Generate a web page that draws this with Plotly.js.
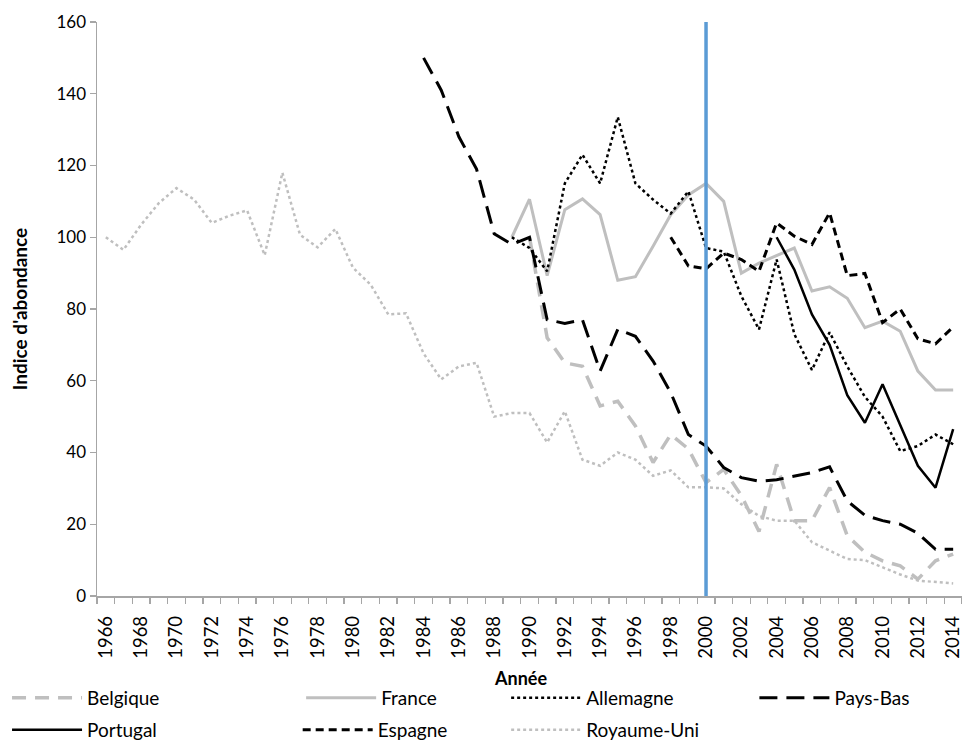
<!DOCTYPE html>
<html>
<head>
<meta charset="utf-8">
<script src="https://cdn.plot.ly/plotly-3.0.1.min.js"></script>
<style>html,body{margin:0;padding:0;background:#fff}#chart{width:962px;height:749px}</style>
</head>
<body>
<div id="chart"></div>
<script>
// Years on the category axis
var years = [];
for (var y = 1966; y <= 2014; y++) years.push(y);
var tickYears = years.filter(function (v) { return v % 2 === 0; });

// Series values (index of abundance), each with its first year
var belgiqueStart = 1990;
var belgique = [100, 72, 65, 64, 53, 54.3, 47.4, 37.2, 45, 41, 31.6, 35.3, 28, 18, 36.7, 21, 21, 30.2, 16.8, 12.2, 9.8, 8.4, 4.7, 9.8, 11.7];
var franceStart = 1989;
var france = [100, 110.6, 89.3, 107.7, 110.7, 106.3, 88, 89, 97.5, 106.3, 111.8, 115, 110, 90, 92.8, 95, 97, 85, 86.2, 83, 74.8, 76.6, 73.8, 62.7, 57.4, 57.4];
var allemagneStart = 1989;
var allemagne = [100, 97, 90.5, 115, 123, 115, 133.5, 115, 110.5, 106.6, 112.8, 97, 96, 83.6, 74.3, 93.8, 73, 63, 73.5, 64, 55.5, 50, 40.4, 41.8, 45, 42.3];
var paysBasStart = 1984;
var paysBas = [150, 141, 128, 119, 101, 98, 100, 77, 76, 77, 62.7, 74.3, 72.4, 65.5, 56.7, 45, 41.8, 35.8, 33, 32, 32.4, 33.3, 34.4, 36, 26.5, 22.5, 21, 20, 17.5, 13, 13];
var portugalStart = 2004;
var portugal = [100, 91, 78.5, 70, 56, 48.3, 59, 47.4, 36.3, 30.2, 46.5];
var espagneStart = 1998;
var espagne = [100, 92, 91.2, 95.6, 93.8, 90.5, 104, 100.3, 98, 106.8, 89.3, 89.9, 76.2, 80, 71.7, 70.3, 75];
var royaumeUniStart = 1966;
var royaumeUni = [100, 96.5, 103.5, 109.5, 113.7, 110.5, 104, 106, 107.5, 95, 118, 100.7, 97.2, 102.3, 91.5, 86.8, 78.5, 78.8, 67.6, 60.4, 64, 65, 50, 51, 51, 42.8, 51.5, 38, 36.3, 40, 38, 33.5, 35, 30.3, 30.3, 30, 25.6, 22.3, 21, 21, 15, 12.6, 10.3, 10, 8, 6, 4.3, 4, 3.5];

var markerYear = 2000;

function xs(start, vals) {
  var i0 = years.indexOf(start);
  return years.slice(i0, i0 + vals.length);
}

var GREY = '#BFBFBF', BLACK = '#000000';
var font = 'Lato, "Liberation Sans", Arial, sans-serif';

function tr(name, start, vals, color, width, dash, legend) {
  return {
    type: 'scatter', mode: 'lines', name: name,
    x: xs(start, vals), y: vals,
    line: {color: color, width: width, dash: dash},
    legend: legend,
    hoverinfo: 'skip'
  };
}

var data = [
  tr('Belgique', belgiqueStart, belgique, GREY, 3.5, '14px,9px', 'legend'),
  tr('France', franceStart, france, GREY, 3, 'solid', 'legend2'),
  tr('Allemagne', allemagneStart, allemagne, BLACK, 2.5, 'dot', 'legend3'),
  tr('Pays-Bas', paysBasStart, paysBas, BLACK, 3, '18px,9px', 'legend4'),
  tr('Portugal', portugalStart, portugal, BLACK, 2.5, 'solid', 'legend5'),
  tr('Espagne', espagneStart, espagne, BLACK, 3, '8px,5px', 'legend6'),
  tr('Royaume-Uni', royaumeUniStart, royaumeUni, GREY, 2.5, 'dot', 'legend7')
];

var ROW1 = -0.1777, ROW2 = -0.2334;
function leg(xp, yp) {
  return {
    x: xp, xanchor: 'left', y: yp, yanchor: 'middle',
    orientation: 'v',
    font: {family: font, size: 19, color: '#000'},
    bgcolor: 'rgba(0,0,0,0)', itemwidth: 70, itemclick: false, itemdoubleclick: false
  };
}

var layout = {
  width: 962, height: 749,
  margin: {l: 97, r: 0, t: 22, b: 153},
  paper_bgcolor: '#fff', plot_bgcolor: '#fff',
  font: {family: font, size: 16, color: '#000'},
  showlegend: true,
  xaxis: {
    type: 'linear', range: [1965.5, 2014.5],
    tickmode: 'array', tickvals: tickYears, ticktext: tickYears.map(String),
    tickangle: -90, ticks: '', showgrid: false, zeroline: false,
    ticklabeloverflow: 'allow', ticklabelstandoff: 11,
    showline: true, linecolor: '#A6A6A6', linewidth: 1.5,
    tickfont: {family: font, size: 18.5, color: '#000'},
    minor: {tickmode: 'linear', tick0: 1965.5, dtick: 1, ticks: 'outside', ticklen: 6, tickcolor: '#A6A6A6', tickwidth: 1.3, showgrid: false},
    fixedrange: true
  },
  yaxis: {
    range: [0, 160], dtick: 20, tick0: 0,
    ticks: 'outside', ticklen: 6, tickcolor: '#A6A6A6', tickwidth: 1.3,
    showgrid: false, zeroline: false,
    showline: true, linecolor: '#A6A6A6', linewidth: 1.5,
    tickfont: {family: font, size: 17, color: '#000'},
    title: {text: '<b>Indice d\'abondance</b>', font: {family: font, size: 19, color: '#000'}, standoff: 24},
    fixedrange: true
  },
  annotations: [{
    text: '<b>Année</b>', xref: 'paper', yref: 'paper', x: 0.49, y: -0.143,
    xanchor: 'center', yanchor: 'middle', showarrow: false,
    font: {family: font, size: 18, color: '#000'}
  }],
  legend: leg(-0.104, ROW1),
  legend2: leg(0.236, ROW1),
  legend3: leg(0.473, ROW1),
  legend4: leg(0.760, ROW1),
  legend5: leg(-0.104, ROW2),
  legend6: leg(0.232, ROW2),
  legend7: leg(0.473, ROW2),
  shapes: [{
    type: 'line', xref: 'x', yref: 'y',
    x0: markerYear, x1: markerYear, y0: 0, y1: 160,
    line: {color: '#5B9BD5', width: 3.5}, layer: 'above'
  }]
};

Plotly.newPlot('chart', data, layout, {displayModeBar: false, staticPlot: true});
</script>
</body>
</html>
